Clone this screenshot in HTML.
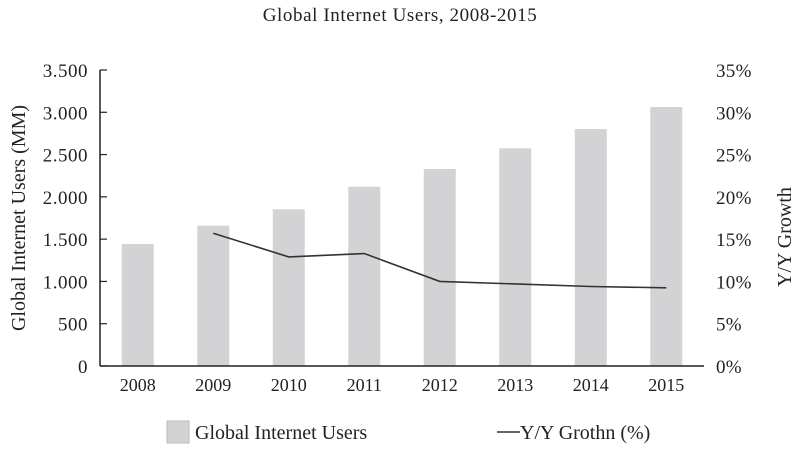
<!DOCTYPE html>
<html><head><meta charset="utf-8"><style>
body{margin:0;background:#fff;}
svg{display:block;font-family:"Liberation Serif",serif;fill:#222;}
</style></head><body>
<svg id="chart" width="800" height="449">
<text x="400" y="21" text-anchor="middle" font-size="19" letter-spacing="0.6">Global Internet Users, 2008-2015</text>
<g id="plot"></g>
<text transform="translate(25,218) rotate(-90)" text-anchor="middle" font-size="20">Global Internet Users (MM)</text>
<text transform="translate(791,237) rotate(-90)" text-anchor="middle" font-size="20">Y/Y Growth</text>
<rect x="167" y="421" width="22" height="22" fill="#d3d3d5" stroke="#bbb"/>
<text x="195" y="439" font-size="20">Global Internet Users</text>
<line x1="497" y1="432" x2="520" y2="432" stroke="#333" stroke-width="1.5"/>
<text x="520" y="439" font-size="20">Y/Y Grothn (%)</text>
</svg>
<script>
const categories=["2008","2009","2010","2011","2012","2013","2014","2015"];
const users=[1443,1659,1853,2120,2329,2574,2802,3062];
const growth=[null,15.7,12.9,13.3,10.0,9.7,9.4,9.25];
const leftTicks=[0,500,1000,1500,2000,2500,3000,3500];
const leftTickLabels=["0","500","1.000","1.500","2.000","2.500","3.000","3.500"];
const rightTicks=[0,5,10,15,20,25,30,35];
const NS="http://www.w3.org/2000/svg";
const g=document.getElementById('plot');
const X0=100,X1=704,Y0=366,Y1=70;
const band=(X1-X0)/categories.length;
const xc=i=>X0+band*(i+0.5);
const yL=v=>Y0-(v/3500)*(Y0-Y1);
const yR=v=>Y0-(v/35)*(Y0-Y1);
function mk(t,a){const e=document.createElementNS(NS,t);for(const k in a)e.setAttribute(k,a[k]);g.appendChild(e);return e;}
users.forEach((v,i)=>{
 const r=mk('rect',{x:xc(i)-16,y:yL(v),width:32,height:Y0-yL(v),fill:'#d3d3d5'});
 
 
});
leftTicks.forEach((v,i)=>{
 const l=mk('line',{x1:X0,x2:X0+7,y1:yL(v),y2:yL(v),stroke:'#222','stroke-width':1.2});
 
 
 const t=mk('text',{x:88,y:yL(v)+7,'text-anchor':'end','font-size':19,'letter-spacing':0.5});
 t.textContent=leftTickLabels[i];
 
 
});
rightTicks.forEach(v=>{
 const t=mk('text',{x:716,y:yR(v)+7,'font-size':19,'letter-spacing':0.3});
 t.textContent=v+'%';
 
 
});
categories.forEach((c,i)=>{
 const t=mk('text',{x:xc(i),y:391,'text-anchor':'middle','font-size':18});
 t.textContent=c;
 
 
});
const la=mk('line',{x1:X0,x2:X0,y1:Y1,y2:Y0,stroke:'#222','stroke-width':1.5});


const xa=mk('line',{x1:X0,x2:X1,y1:Y0,y2:Y0,stroke:'#222','stroke-width':1.5});


const pts=growth.map((v,i)=>v==null?null:xc(i)+','+yR(v)).filter(p=>p);
const pl=mk('polyline',{points:pts.join(' '),fill:'none',stroke:'#333','stroke-width':1.6});


</script>
</body></html>
